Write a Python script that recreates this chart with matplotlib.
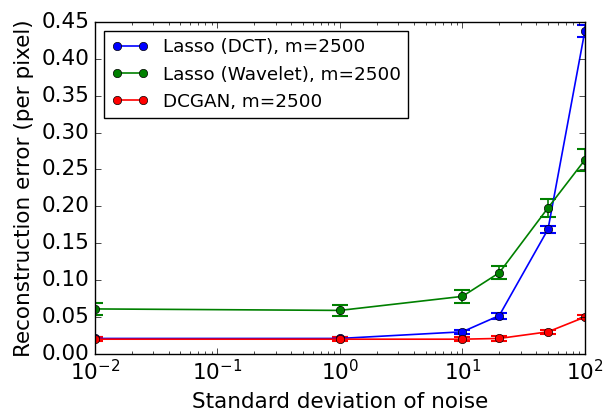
import matplotlib
matplotlib.use("Agg")
import matplotlib.pyplot as plt
import numpy as np

plt.style.use('classic')

noise = [0.01, 1, 10, 20, 50, 100]
dct_mean = [0.021, 0.021, 0.030, 0.052, 0.169, 0.438]
dct_err = [0.002, 0.002, 0.003, 0.004, 0.005, 0.008]
wav_mean = [0.061, 0.059, 0.078, 0.110, 0.198, 0.263]
wav_err = [0.008, 0.008, 0.009, 0.009, 0.012, 0.015]
gan_mean = [0.020, 0.020, 0.020, 0.021, 0.030, 0.050]
gan_err = [0.003, 0.003, 0.003, 0.003, 0.003, 0.003]
labels = ['Lasso (DCT), m=2500', 'Lasso (Wavelet), m=2500', 'DCGAN, m=2500']
colors = ['b', 'g', 'r']

fig = plt.figure(figsize=(6.08, 4.13), dpi=100, facecolor='white')
ax = fig.add_axes([0.156, 0.143, 0.806, 0.804])

handles = []
for m, e, c, lab in zip([dct_mean, wav_mean, gan_mean], [dct_err, wav_err, gan_err], colors, labels):
    cont = ax.errorbar(noise, m, yerr=e, color=c, marker='o', markersize=6,
                       capsize=6, capthick=1.5, elinewidth=1.2, linewidth=1.2)
    handles.append((cont.lines[0], lab))

ax.set_xscale('log')
ax.set_xlim(0.01, 100)
ax.set_ylim(0, 0.45)
ax.set_yticks(np.arange(0, 0.451, 0.05))
ax.tick_params(labelsize=15.5)
ax.set_xlabel('Standard deviation of noise', fontsize=15.5)
ax.set_ylabel('Reconstruction error (per pixel)', fontsize=15.5)
ax.legend([h for h, _ in handles], [l for _, l in handles],
          loc='upper left', fontsize=13.2, numpoints=2)

fig.savefig('out.png', dpi=100, facecolor='white')
